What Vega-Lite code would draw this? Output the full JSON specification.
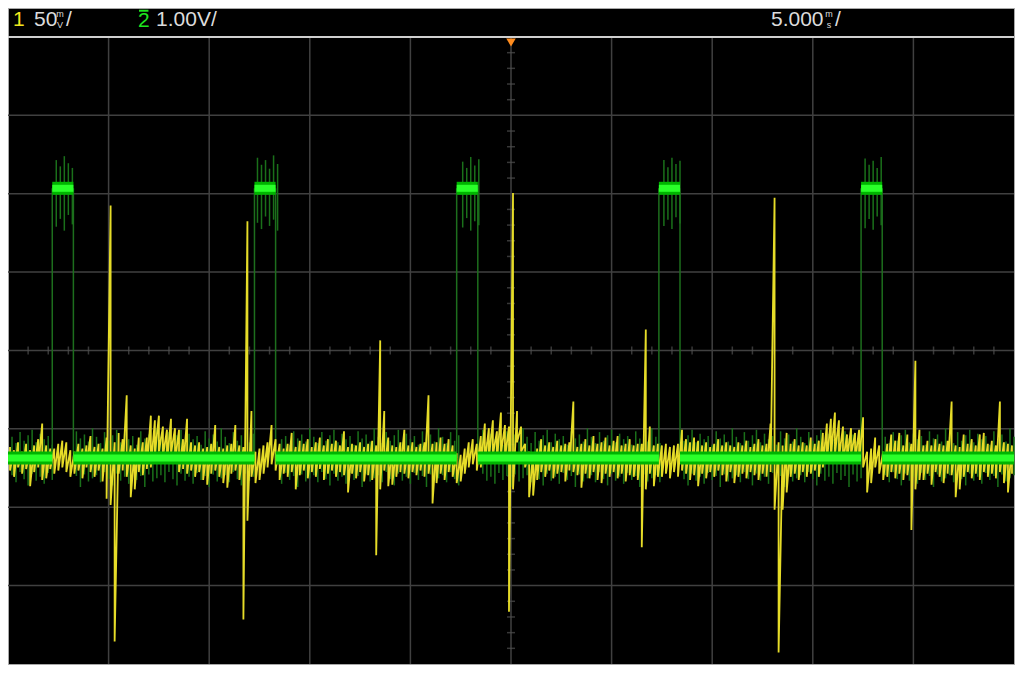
{
"$schema": "https://vega.github.io/schema/vega-lite/v6.json",
"width": 1006, "height": 656,
"autosize": {"type": "none"},
"padding": {"left": 8, "top": 8, "right": 10, "bottom": 12},
"background": "white",
"config": {"view": {"fill": "black", "stroke": "#a8a8a8", "strokeWidth": 1}},
"datasets": {
"gridT": [{"t":-20},{"t":-15},{"t":-10},{"t":-5},{"t":0},{"t":5},{"t":10},{"t":15},{"t":20}],
"gridD": [{"d":-3},{"d":-2},{"d":-1},{"d":0},{"d":1},{"d":2},{"d":3}],
"minorT": [{"t":-24},{"t":-23},{"t":-22},{"t":-21},{"t":-19},{"t":-18},{"t":-17},{"t":-16},{"t":-14},{"t":-13},{"t":-12},{"t":-11},{"t":-9},{"t":-8},{"t":-7},{"t":-6},{"t":-4},{"t":-3},{"t":-2},{"t":-1},{"t":1},{"t":2},{"t":3},{"t":4},{"t":6},{"t":7},{"t":8},{"t":9},{"t":11},{"t":12},{"t":13},{"t":14},{"t":16},{"t":17},{"t":18},{"t":19},{"t":21},{"t":22},{"t":23},{"t":24}],
"minorD": [{"d":-3.8},{"d":-3.6},{"d":-3.4},{"d":-3.2},{"d":-2.8},{"d":-2.6},{"d":-2.4},{"d":-2.2},{"d":-1.8},{"d":-1.6},{"d":-1.4},{"d":-1.2},{"d":-0.8},{"d":-0.6},{"d":-0.4},{"d":-0.2},{"d":0.2},{"d":0.4},{"d":0.6},{"d":0.8},{"d":1.2},{"d":1.4},{"d":1.6},{"d":1.8},{"d":2.2},{"d":2.4},{"d":2.6},{"d":2.8},{"d":3.2},{"d":3.4},{"d":3.6},{"d":3.8}],
"segs": [{"t1":-25,"t2":-22.8,"v":0},{"t1":-22.8,"t2":-21.75,"v":3.44},{"t1":-21.75,"t2":-12.75,"v":0},{"t1":-12.75,"t2":-11.7,"v":3.44},{"t1":-11.7,"t2":-2.7,"v":0},{"t1":-2.7,"t2":-1.65,"v":3.44},{"t1":-1.65,"t2":7.35,"v":0},{"t1":7.35,"t2":8.4,"v":3.44},{"t1":8.4,"t2":17.4,"v":0},{"t1":17.4,"t2":18.45,"v":3.44},{"t1":18.45,"t2":25,"v":0}],
"edges": [{"t":-22.8},{"t":-21.75},{"t":-12.75},{"t":-11.7},{"t":-2.7},{"t":-1.65},{"t":7.35},{"t":8.4},{"t":17.4},{"t":18.45}],
"header": [{"t":-24.75,"d":4.217,"txt":"1","ch":"1"},{"t":-23.71,"d":4.217,"txt":"50","ch":"n"},{"t":-22.12,"d":4.217,"txt":"/","ch":"n"},{"t":-18.54,"d":4.21,"txt":"2","ch":"2"},{"t":-17.64,"d":4.217,"txt":"1.00V/","ch":"n"},{"t":12.92,"d":4.217,"txt":"5.000","ch":"n"},{"t":16.1,"d":4.217,"txt":"/","ch":"n"}],
"bar": [{"t1":-18.49,"t2":-18.02,"d":4.335}],
"units": [{"t":-22.42,"d":4.29,"txt":"m"},{"t":-22.42,"d":4.15,"txt":"V"},{"t":15.8,"d":4.29,"txt":"m"},{"t":15.8,"d":4.15,"txt":"s"}],
"trig": [{"t":0,"d":3.93}],
"cols": [
{"t":-24.9,"lo":-8,"hi":7,"glo":-0.22,"ghi":0.27},
{"t":-24.7,"lo":-12,"hi":5,"glo":-0.31,"ghi":0.19},
{"t":-24.5,"lo":-6,"hi":10,"glo":-0.18,"ghi":0.33},
{"t":-24.3,"lo":-10,"hi":4,"glo":-0.27,"ghi":0.22},
{"t":-24.1,"lo":-7,"hi":9,"glo":-0.35,"ghi":0.29},
{"t":-23.9,"lo":-18,"hi":5,"glo":-0.2,"ghi":0.36},
{"t":-23.7,"lo":-9,"hi":8,"glo":-0.29,"ghi":0.2},
{"t":-23.5,"lo":-6,"hi":12,"glo":-0.24,"ghi":0.31},
{"t":-23.3,"lo":-14,"hi":22,"glo":-0.33,"ghi":0.24},
{"t":-23.1,"lo":-13,"hi":8,"glo":-0.19,"ghi":0.28},
{"t":-22.9,"lo":-7,"hi":6,"glo":-0.28,"ghi":0.17},
{"t":-22.7,"lo":-10,"hi":6,"glo":2.95,"ghi":3.8},
{"t":-22.5,"lo":-8,"hi":9,"glo":3.05,"ghi":3.72},
{"t":-22.3,"lo":-6,"hi":11,"glo":2.9,"ghi":3.85},
{"t":-22.1,"lo":-9,"hi":10,"glo":3.1,"ghi":3.76},
{"t":-21.9,"lo":-12,"hi":5,"glo":2.98,"ghi":3.7},
{"t":-21.7,"lo":-10,"hi":4,"glo":-0.23,"ghi":0.34},
{"t":-21.5,"lo":-8,"hi":9,"glo":-0.37,"ghi":0.25},
{"t":-21.3,"lo":-13,"hi":6,"glo":-0.21,"ghi":0.3},
{"t":-21.1,"lo":-6,"hi":8,"glo":-0.3,"ghi":0.21},
{"t":-20.9,"lo":-9,"hi":14,"glo":-0.26,"ghi":0.38},
{"t":-20.7,"lo":-12,"hi":7,"glo":-0.22,"ghi":0.27},
{"t":-20.5,"lo":-8,"hi":9,"glo":-0.31,"ghi":0.19},
{"t":-20.3,"lo":-15,"hi":6,"glo":-0.18,"ghi":0.33},
{"t":-20.1,"lo":-26,"hi":13,"glo":-0.27,"ghi":0.22},
{"t":-19.9,"lo":-30,"hi":161,"glo":-0.35,"ghi":0.29},
{"t":-19.7,"lo":-117,"hi":10,"glo":-0.2,"ghi":0.36},
{"t":-19.5,"lo":-10,"hi":16,"glo":-0.29,"ghi":0.2},
{"t":-19.3,"lo":-8,"hi":12,"glo":-0.24,"ghi":0.31},
{"t":-19.1,"lo":-12,"hi":40,"glo":-0.33,"ghi":0.24},
{"t":-18.9,"lo":-25,"hi":8,"glo":-0.19,"ghi":0.28},
{"t":-18.7,"lo":-20,"hi":6,"glo":-0.28,"ghi":0.17},
{"t":-18.5,"lo":-9,"hi":13,"glo":-0.23,"ghi":0.34},
{"t":-18.3,"lo":-11,"hi":10,"glo":-0.37,"ghi":0.25},
{"t":-18.1,"lo":-7,"hi":13,"glo":-0.21,"ghi":0.3},
{"t":-17.9,"lo":-6,"hi":27,"glo":-0.3,"ghi":0.21},
{"t":-17.7,"lo":2,"hi":24,"glo":-0.26,"ghi":0.38},
{"t":-17.5,"lo":4,"hi":27,"glo":-0.22,"ghi":0.27},
{"t":-17.3,"lo":1,"hi":20,"glo":-0.31,"ghi":0.19},
{"t":-17.1,"lo":-3,"hi":18,"glo":-0.18,"ghi":0.33},
{"t":-16.9,"lo":3,"hi":25,"glo":-0.27,"ghi":0.22},
{"t":-16.7,"lo":-2,"hi":19,"glo":-0.35,"ghi":0.29},
{"t":-16.5,"lo":-9,"hi":18,"glo":-0.2,"ghi":0.36},
{"t":-16.3,"lo":-7,"hi":12,"glo":-0.29,"ghi":0.2},
{"t":-16.1,"lo":-10,"hi":25,"glo":-0.24,"ghi":0.31},
{"t":-15.9,"lo":-8,"hi":10,"glo":-0.33,"ghi":0.24},
{"t":-15.7,"lo":-12,"hi":8,"glo":-0.19,"ghi":0.28},
{"t":-15.5,"lo":-9,"hi":10,"glo":-0.28,"ghi":0.17},
{"t":-15.3,"lo":-14,"hi":6,"glo":-0.23,"ghi":0.34},
{"t":-15.1,"lo":-17,"hi":7,"glo":-0.37,"ghi":0.25},
{"t":-14.9,"lo":-10,"hi":9,"glo":-0.21,"ghi":0.3},
{"t":-14.7,"lo":-8,"hi":21,"glo":-0.3,"ghi":0.21},
{"t":-14.5,"lo":-12,"hi":7,"glo":-0.26,"ghi":0.38},
{"t":-14.3,"lo":-16,"hi":6,"glo":-0.22,"ghi":0.27},
{"t":-14.1,"lo":-19,"hi":8,"glo":-0.31,"ghi":0.19},
{"t":-13.9,"lo":-10,"hi":9,"glo":-0.18,"ghi":0.33},
{"t":-13.7,"lo":-8,"hi":21,"glo":-0.27,"ghi":0.22},
{"t":-13.5,"lo":-14,"hi":8,"glo":-0.35,"ghi":0.29},
{"t":-13.3,"lo":-103,"hi":7,"glo":-0.2,"ghi":0.36},
{"t":-13.1,"lo":-40,"hi":151,"glo":-0.29,"ghi":0.2},
{"t":-12.9,"lo":-12,"hi":30,"glo":-0.24,"ghi":0.31},
{"t":-12.7,"lo":-16,"hi":4,"glo":3.0,"ghi":3.83},
{"t":-12.5,"lo":-14,"hi":6,"glo":2.92,"ghi":3.74},
{"t":-12.3,"lo":-10,"hi":8,"glo":3.08,"ghi":3.8},
{"t":-12.1,"lo":-6,"hi":10,"glo":2.96,"ghi":3.69},
{"t":-11.9,"lo":-4,"hi":21,"glo":3.04,"ghi":3.86},
{"t":-11.7,"lo":-8,"hi":12,"glo":2.9,"ghi":3.75},
{"t":-11.5,"lo":-14,"hi":9,"glo":-0.33,"ghi":0.24},
{"t":-11.3,"lo":-10,"hi":6,"glo":-0.19,"ghi":0.28},
{"t":-11.1,"lo":-12,"hi":9,"glo":-0.28,"ghi":0.17},
{"t":-10.9,"lo":-9,"hi":16,"glo":-0.23,"ghi":0.34},
{"t":-10.7,"lo":-20,"hi":7,"glo":-0.37,"ghi":0.25},
{"t":-10.5,"lo":-11,"hi":11,"glo":-0.21,"ghi":0.3},
{"t":-10.3,"lo":-8,"hi":9,"glo":-0.3,"ghi":0.21},
{"t":-10.1,"lo":-13,"hi":12,"glo":-0.26,"ghi":0.38},
{"t":-9.9,"lo":-9,"hi":7,"glo":-0.22,"ghi":0.27},
{"t":-9.7,"lo":-12,"hi":10,"glo":-0.31,"ghi":0.19},
{"t":-9.5,"lo":-7,"hi":13,"glo":-0.18,"ghi":0.33},
{"t":-9.3,"lo":-14,"hi":8,"glo":-0.27,"ghi":0.22},
{"t":-9.1,"lo":-10,"hi":12,"glo":-0.35,"ghi":0.29},
{"t":-8.9,"lo":-8,"hi":9,"glo":-0.2,"ghi":0.36},
{"t":-8.7,"lo":-12,"hi":11,"glo":-0.29,"ghi":0.2},
{"t":-8.5,"lo":-9,"hi":8,"glo":-0.24,"ghi":0.31},
{"t":-8.3,"lo":-11,"hi":17,"glo":-0.33,"ghi":0.24},
{"t":-8.1,"lo":-22,"hi":7,"glo":-0.19,"ghi":0.28},
{"t":-7.9,"lo":-10,"hi":9,"glo":-0.28,"ghi":0.17},
{"t":-7.7,"lo":-13,"hi":8,"glo":-0.23,"ghi":0.34},
{"t":-7.5,"lo":-9,"hi":10,"glo":-0.37,"ghi":0.25},
{"t":-7.3,"lo":-15,"hi":7,"glo":-0.21,"ghi":0.3},
{"t":-7.1,"lo":-11,"hi":9,"glo":-0.3,"ghi":0.21},
{"t":-6.9,"lo":-14,"hi":11,"glo":-0.26,"ghi":0.38},
{"t":-6.7,"lo":-62,"hi":8,"glo":-0.22,"ghi":0.27},
{"t":-6.5,"lo":-20,"hi":75,"glo":-0.31,"ghi":0.19},
{"t":-6.3,"lo":-8,"hi":30,"glo":-0.18,"ghi":0.33},
{"t":-6.1,"lo":-18,"hi":13,"glo":-0.27,"ghi":0.22},
{"t":-5.9,"lo":-17,"hi":8,"glo":-0.35,"ghi":0.29},
{"t":-5.7,"lo":-12,"hi":7,"glo":-0.2,"ghi":0.36},
{"t":-5.5,"lo":-9,"hi":10,"glo":-0.29,"ghi":0.2},
{"t":-5.3,"lo":-10,"hi":18,"glo":-0.24,"ghi":0.31},
{"t":-5.1,"lo":-13,"hi":8,"glo":-0.33,"ghi":0.24},
{"t":-4.9,"lo":-9,"hi":10,"glo":-0.19,"ghi":0.28},
{"t":-4.7,"lo":-11,"hi":7,"glo":-0.28,"ghi":0.17},
{"t":-4.5,"lo":-8,"hi":9,"glo":-0.23,"ghi":0.34},
{"t":-4.3,"lo":-12,"hi":10,"glo":-0.37,"ghi":0.25},
{"t":-4.1,"lo":-10,"hi":40,"glo":-0.21,"ghi":0.3},
{"t":-3.9,"lo":-29,"hi":9,"glo":-0.3,"ghi":0.21},
{"t":-3.7,"lo":-16,"hi":10,"glo":-0.26,"ghi":0.38},
{"t":-3.5,"lo":-10,"hi":13,"glo":-0.22,"ghi":0.27},
{"t":-3.3,"lo":-14,"hi":9,"glo":-0.31,"ghi":0.19},
{"t":-3.1,"lo":-9,"hi":12,"glo":-0.18,"ghi":0.33},
{"t":-2.9,"lo":-12,"hi":8,"glo":-0.27,"ghi":0.22},
{"t":-2.7,"lo":-16,"hi":3,"glo":-0.35,"ghi":0.29},
{"t":-2.5,"lo":-15,"hi":2,"glo":2.94,"ghi":3.78},
{"t":-2.3,"lo":-10,"hi":6,"glo":3.06,"ghi":3.7},
{"t":-2.1,"lo":-6,"hi":10,"glo":2.9,"ghi":3.84},
{"t":-1.9,"lo":-4,"hi":12,"glo":3.02,"ghi":3.73},
{"t":-1.7,"lo":-8,"hi":9,"glo":2.97,"ghi":3.81},
{"t":-1.5,"lo":-6,"hi":14,"glo":-0.2,"ghi":0.36},
{"t":-1.3,"lo":-3,"hi":22,"glo":-0.29,"ghi":0.2},
{"t":-1.1,"lo":0,"hi":19,"glo":-0.24,"ghi":0.31},
{"t":-0.9,"lo":2,"hi":24,"glo":-0.33,"ghi":0.24},
{"t":-0.7,"lo":-2,"hi":17,"glo":-0.19,"ghi":0.28},
{"t":-0.5,"lo":3,"hi":29,"glo":-0.28,"ghi":0.17},
{"t":-0.3,"lo":0,"hi":21,"glo":-0.23,"ghi":0.34},
{"t":-0.1,"lo":-98,"hi":20,"glo":-0.37,"ghi":0.25},
{"t":0.1,"lo":-20,"hi":169,"glo":-0.21,"ghi":0.3},
{"t":0.3,"lo":10,"hi":30,"glo":-0.3,"ghi":0.21},
{"t":0.5,"lo":4,"hi":20,"glo":-0.26,"ghi":0.38},
{"t":0.7,"lo":-6,"hi":9,"glo":-0.22,"ghi":0.27},
{"t":0.9,"lo":-25,"hi":4,"glo":-0.31,"ghi":0.19},
{"t":1.1,"lo":-24,"hi":3,"glo":-0.18,"ghi":0.33},
{"t":1.3,"lo":-14,"hi":6,"glo":-0.27,"ghi":0.22},
{"t":1.5,"lo":-9,"hi":12,"glo":-0.35,"ghi":0.29},
{"t":1.7,"lo":-12,"hi":8,"glo":-0.2,"ghi":0.36},
{"t":1.9,"lo":-8,"hi":10,"glo":-0.29,"ghi":0.2},
{"t":2.1,"lo":-13,"hi":7,"glo":-0.24,"ghi":0.31},
{"t":2.3,"lo":-10,"hi":11,"glo":-0.33,"ghi":0.24},
{"t":2.5,"lo":-9,"hi":8,"glo":-0.19,"ghi":0.28},
{"t":2.7,"lo":-15,"hi":9,"glo":-0.28,"ghi":0.17},
{"t":2.9,"lo":-8,"hi":10,"glo":-0.23,"ghi":0.34},
{"t":3.1,"lo":-9,"hi":36,"glo":-0.37,"ghi":0.25},
{"t":3.3,"lo":-11,"hi":7,"glo":-0.21,"ghi":0.3},
{"t":3.5,"lo":-19,"hi":9,"glo":-0.3,"ghi":0.21},
{"t":3.7,"lo":-10,"hi":12,"glo":-0.26,"ghi":0.38},
{"t":3.9,"lo":-13,"hi":8,"glo":-0.22,"ghi":0.27},
{"t":4.1,"lo":-9,"hi":14,"glo":-0.31,"ghi":0.19},
{"t":4.3,"lo":-14,"hi":9,"glo":-0.18,"ghi":0.33},
{"t":4.5,"lo":-16,"hi":10,"glo":-0.27,"ghi":0.22},
{"t":4.7,"lo":-10,"hi":13,"glo":-0.35,"ghi":0.29},
{"t":4.9,"lo":-12,"hi":8,"glo":-0.2,"ghi":0.36},
{"t":5.1,"lo":-9,"hi":11,"glo":-0.29,"ghi":0.2},
{"t":5.3,"lo":-13,"hi":14,"glo":-0.24,"ghi":0.31},
{"t":5.5,"lo":-10,"hi":8,"glo":-0.33,"ghi":0.24},
{"t":5.7,"lo":-15,"hi":9,"glo":-0.19,"ghi":0.28},
{"t":5.9,"lo":-11,"hi":12,"glo":-0.28,"ghi":0.17},
{"t":6.1,"lo":-12,"hi":8,"glo":-0.23,"ghi":0.34},
{"t":6.3,"lo":-14,"hi":9,"glo":-0.37,"ghi":0.25},
{"t":6.5,"lo":-57,"hi":9,"glo":-0.21,"ghi":0.3},
{"t":6.7,"lo":-20,"hi":82,"glo":-0.3,"ghi":0.21},
{"t":6.9,"lo":-10,"hi":20,"glo":-0.26,"ghi":0.38},
{"t":7.1,"lo":-18,"hi":8,"glo":-0.22,"ghi":0.27},
{"t":7.3,"lo":-12,"hi":9,"glo":-0.31,"ghi":0.19},
{"t":7.5,"lo":-12,"hi":8,"glo":2.96,"ghi":3.8},
{"t":7.7,"lo":-10,"hi":9,"glo":3.04,"ghi":3.71},
{"t":7.9,"lo":-13,"hi":7,"glo":2.92,"ghi":3.83},
{"t":8.1,"lo":-9,"hi":8,"glo":3.07,"ghi":3.75},
{"t":8.3,"lo":-12,"hi":9,"glo":2.99,"ghi":3.79},
{"t":8.5,"lo":-8,"hi":18,"glo":-0.27,"ghi":0.22},
{"t":8.7,"lo":-10,"hi":12,"glo":-0.35,"ghi":0.29},
{"t":8.9,"lo":-14,"hi":10,"glo":-0.2,"ghi":0.36},
{"t":9.1,"lo":-11,"hi":13,"glo":-0.29,"ghi":0.2},
{"t":9.3,"lo":-18,"hi":11,"glo":-0.24,"ghi":0.31},
{"t":9.5,"lo":-10,"hi":8,"glo":-0.33,"ghi":0.24},
{"t":9.7,"lo":-13,"hi":10,"glo":-0.19,"ghi":0.28},
{"t":9.9,"lo":-9,"hi":7,"glo":-0.28,"ghi":0.17},
{"t":10.1,"lo":-12,"hi":9,"glo":-0.23,"ghi":0.34},
{"t":10.3,"lo":-8,"hi":12,"glo":-0.37,"ghi":0.25},
{"t":10.5,"lo":-11,"hi":8,"glo":-0.21,"ghi":0.3},
{"t":10.7,"lo":-15,"hi":10,"glo":-0.3,"ghi":0.21},
{"t":10.9,"lo":-9,"hi":8,"glo":-0.26,"ghi":0.38},
{"t":11.1,"lo":-16,"hi":7,"glo":-0.22,"ghi":0.27},
{"t":11.3,"lo":-12,"hi":10,"glo":-0.31,"ghi":0.19},
{"t":11.5,"lo":-10,"hi":8,"glo":-0.18,"ghi":0.33},
{"t":11.7,"lo":-13,"hi":11,"glo":-0.27,"ghi":0.22},
{"t":11.9,"lo":-9,"hi":7,"glo":-0.35,"ghi":0.29},
{"t":12.1,"lo":-11,"hi":9,"glo":-0.2,"ghi":0.36},
{"t":12.3,"lo":-14,"hi":12,"glo":-0.29,"ghi":0.2},
{"t":12.5,"lo":-10,"hi":8,"glo":-0.24,"ghi":0.31},
{"t":12.7,"lo":-12,"hi":9,"glo":-0.33,"ghi":0.24},
{"t":12.9,"lo":-9,"hi":22,"glo":-0.19,"ghi":0.28},
{"t":13.1,"lo":-33,"hi":166,"glo":-0.28,"ghi":0.17},
{"t":13.3,"lo":-124,"hi":10,"glo":-0.23,"ghi":0.34},
{"t":13.5,"lo":-33,"hi":8,"glo":-0.37,"ghi":0.25},
{"t":13.7,"lo":-22,"hi":16,"glo":-0.21,"ghi":0.3},
{"t":13.9,"lo":-12,"hi":9,"glo":-0.3,"ghi":0.21},
{"t":14.1,"lo":-10,"hi":12,"glo":-0.26,"ghi":0.38},
{"t":14.3,"lo":-14,"hi":8,"glo":-0.22,"ghi":0.27},
{"t":14.5,"lo":-9,"hi":10,"glo":-0.31,"ghi":0.19},
{"t":14.7,"lo":-12,"hi":8,"glo":-0.18,"ghi":0.33},
{"t":14.9,"lo":-10,"hi":13,"glo":-0.27,"ghi":0.22},
{"t":15.1,"lo":-8,"hi":9,"glo":-0.35,"ghi":0.29},
{"t":15.3,"lo":-12,"hi":11,"glo":-0.2,"ghi":0.36},
{"t":15.5,"lo":-6,"hi":16,"glo":-0.29,"ghi":0.2},
{"t":15.7,"lo":-2,"hi":22,"glo":-0.24,"ghi":0.31},
{"t":15.9,"lo":1,"hi":25,"glo":-0.33,"ghi":0.24},
{"t":16.1,"lo":3,"hi":29,"glo":-0.19,"ghi":0.28},
{"t":16.3,"lo":0,"hi":24,"glo":-0.28,"ghi":0.17},
{"t":16.5,"lo":-3,"hi":20,"glo":-0.23,"ghi":0.34},
{"t":16.7,"lo":-1,"hi":15,"glo":-0.37,"ghi":0.25},
{"t":16.9,"lo":2,"hi":19,"glo":-0.21,"ghi":0.3},
{"t":17.1,"lo":-2,"hi":16,"glo":-0.3,"ghi":0.21},
{"t":17.3,"lo":-2,"hi":18,"glo":-0.26,"ghi":0.38},
{"t":17.5,"lo":-6,"hi":26,"glo":2.93,"ghi":3.82},
{"t":17.7,"lo":-22,"hi":4,"glo":3.05,"ghi":3.74},
{"t":17.9,"lo":-16,"hi":6,"glo":2.91,"ghi":3.79},
{"t":18.1,"lo":-6,"hi":13,"glo":3.08,"ghi":3.7},
{"t":18.3,"lo":-10,"hi":8,"glo":2.97,"ghi":3.84},
{"t":18.5,"lo":-14,"hi":4,"glo":-0.22,"ghi":0.27},
{"t":18.7,"lo":-12,"hi":9,"glo":-0.31,"ghi":0.19},
{"t":18.9,"lo":-9,"hi":15,"glo":-0.18,"ghi":0.33},
{"t":19.1,"lo":-13,"hi":11,"glo":-0.27,"ghi":0.22},
{"t":19.3,"lo":-10,"hi":16,"glo":-0.35,"ghi":0.29},
{"t":19.5,"lo":-14,"hi":8,"glo":-0.2,"ghi":0.36},
{"t":19.7,"lo":-11,"hi":15,"glo":-0.29,"ghi":0.2},
{"t":19.9,"lo":-46,"hi":9,"glo":-0.24,"ghi":0.31},
{"t":20.1,"lo":-20,"hi":62,"glo":-0.33,"ghi":0.24},
{"t":20.3,"lo":-14,"hi":18,"glo":-0.19,"ghi":0.28},
{"t":20.5,"lo":-14,"hi":8,"glo":-0.28,"ghi":0.17},
{"t":20.7,"lo":-10,"hi":11,"glo":-0.23,"ghi":0.34},
{"t":20.9,"lo":-17,"hi":8,"glo":-0.37,"ghi":0.25},
{"t":21.1,"lo":-9,"hi":12,"glo":-0.21,"ghi":0.3},
{"t":21.3,"lo":-12,"hi":9,"glo":-0.3,"ghi":0.21},
{"t":21.5,"lo":-16,"hi":8,"glo":-0.26,"ghi":0.38},
{"t":21.7,"lo":-10,"hi":11,"glo":-0.22,"ghi":0.27},
{"t":21.9,"lo":-11,"hi":36,"glo":-0.31,"ghi":0.19},
{"t":22.1,"lo":-25,"hi":8,"glo":-0.18,"ghi":0.33},
{"t":22.3,"lo":-20,"hi":7,"glo":-0.27,"ghi":0.22},
{"t":22.5,"lo":-12,"hi":15,"glo":-0.35,"ghi":0.29},
{"t":22.7,"lo":-9,"hi":9,"glo":-0.2,"ghi":0.36},
{"t":22.9,"lo":-13,"hi":12,"glo":-0.29,"ghi":0.2},
{"t":23.1,"lo":-10,"hi":8,"glo":-0.24,"ghi":0.31},
{"t":23.3,"lo":-14,"hi":15,"glo":-0.33,"ghi":0.24},
{"t":23.5,"lo":-9,"hi":16,"glo":-0.19,"ghi":0.28},
{"t":23.7,"lo":-12,"hi":9,"glo":-0.28,"ghi":0.17},
{"t":23.9,"lo":-10,"hi":11,"glo":-0.23,"ghi":0.34},
{"t":24.1,"lo":-13,"hi":8,"glo":-0.37,"ghi":0.25},
{"t":24.3,"lo":-9,"hi":36,"glo":-0.21,"ghi":0.3},
{"t":24.5,"lo":-16,"hi":10,"glo":-0.3,"ghi":0.21},
{"t":24.7,"lo":-22,"hi":9,"glo":-0.26,"ghi":0.38},
{"t":24.9,"lo":-10,"hi":8,"glo":-0.22,"ghi":0.27}
]
},
"resolve": {"scale": {"y": "independent"}},
"layer": [
{"data": {"name": "gridT"}, "mark": {"type": "rule", "color": "#404040", "strokeWidth": 1.5},
 "encoding": {"x": {"field": "t", "type": "quantitative", "scale": {"domain": [-25, 25], "nice": false, "zero": false}, "axis": null},
  "y": {"datum": -4, "type": "quantitative", "scale": {"domain": [-4, 4.37], "nice": false, "zero": false}, "axis": null}, "y2": {"datum": 4}}},
{"data": {"name": "gridD"}, "mark": {"type": "rule", "color": "#404040", "strokeWidth": 1.5},
 "encoding": {"y": {"field": "d", "type": "quantitative", "scale": {"domain": [-4, 4.37], "nice": false, "zero": false}, "axis": null},
  "x": {"datum": -25, "type": "quantitative", "scale": {"domain": [-25, 25], "nice": false, "zero": false}, "axis": null}, "x2": {"datum": 25}}},
{"data": {"values": [{"d": 4}]}, "mark": {"type": "rule", "color": "#cfcfcf", "strokeWidth": 2},
 "encoding": {"y": {"field": "d", "type": "quantitative", "scale": {"domain": [-4, 4.37], "nice": false, "zero": false}, "axis": null},
  "x": {"datum": -25, "type": "quantitative", "scale": {"domain": [-25, 25], "nice": false, "zero": false}, "axis": null}, "x2": {"datum": 25}}},
{"data": {"name": "minorT"}, "mark": {"type": "tick", "orient": "vertical", "color": "#505050", "size": 8, "thickness": 1.5},
 "encoding": {"x": {"field": "t", "type": "quantitative", "scale": {"domain": [-25, 25], "nice": false, "zero": false}, "axis": null},
  "y": {"datum": 0, "type": "quantitative", "scale": {"domain": [-4, 4.37], "nice": false, "zero": false}, "axis": null}}},
{"data": {"name": "minorD"}, "mark": {"type": "tick", "orient": "horizontal", "color": "#505050", "size": 8, "thickness": 1.5},
 "encoding": {"y": {"field": "d", "type": "quantitative", "scale": {"domain": [-4, 4.37], "nice": false, "zero": false}, "axis": null},
  "x": {"datum": 0, "type": "quantitative", "scale": {"domain": [-25, 25], "nice": false, "zero": false}, "axis": null}}},
{"data": {"name": "cols"}, "mark": {"type": "rule", "color": "#1a701a", "strokeWidth": 1.5, "xOffset": 2},
 "encoding": {"x": {"field": "t", "type": "quantitative", "scale": {"domain": [-25, 25], "nice": false, "zero": false}, "axis": null},
  "y": {"field": "glo", "type": "quantitative", "scale": {"domain": [-2.628, 5.74], "nice": false, "zero": false}, "axis": null}, "y2": {"field": "ghi"}}},
{"data": {"name": "edges"}, "mark": {"type": "rule", "color": "#1d6e1d", "strokeWidth": 1.5},
 "encoding": {"x": {"field": "t", "type": "quantitative", "scale": {"domain": [-25, 25], "nice": false, "zero": false}, "axis": null},
  "y": {"datum": 0, "type": "quantitative", "scale": {"domain": [-2.628, 5.74], "nice": false, "zero": false}, "axis": null}, "y2": {"datum": 3.44}}},
{"data": {"name": "cols"}, "transform": [{"fold": ["hi", "lo"], "as": ["k", "y"]}],
 "mark": {"type": "line", "color": "#e6dc28", "strokeWidth": 1.8, "strokeJoin": "bevel"},
 "encoding": {"x": {"field": "t", "type": "quantitative", "scale": {"domain": [-25, 25], "nice": false, "zero": false}, "axis": null},
  "y": {"field": "y", "type": "quantitative", "scale": {"domain": [-131.4, 287.0], "nice": false, "zero": false}, "axis": null},
  "order": [{"field": "t", "type": "quantitative"}, {"field": "k", "type": "nominal"}]}},
{"data": {"name": "segs"}, "mark": {"type": "rule", "color": "#00b400", "strokeWidth": 13, "strokeCap": "butt"},
 "encoding": {"x": {"field": "t1", "type": "quantitative", "scale": {"domain": [-25, 25], "nice": false, "zero": false}, "axis": null}, "x2": {"field": "t2"},
  "y": {"field": "v", "type": "quantitative", "scale": {"domain": [-2.628, 5.74], "nice": false, "zero": false}, "axis": null}}},
{"data": {"name": "segs"}, "mark": {"type": "rule", "color": "#2aff2a", "strokeWidth": 7, "strokeCap": "butt"},
 "encoding": {"x": {"field": "t1", "type": "quantitative", "scale": {"domain": [-25, 25], "nice": false, "zero": false}, "axis": null}, "x2": {"field": "t2"},
  "y": {"field": "v", "type": "quantitative", "scale": {"domain": [-2.628, 5.74], "nice": false, "zero": false}, "axis": null}}},
{"data": {"name": "header"}, "mark": {"type": "text", "align": "left", "baseline": "middle", "font": "Liberation Sans", "fontSize": 21},
 "encoding": {"x": {"field": "t", "type": "quantitative", "scale": {"domain": [-25, 25], "nice": false, "zero": false}, "axis": null},
  "y": {"field": "d", "type": "quantitative", "scale": {"domain": [-4, 4.37], "nice": false, "zero": false}, "axis": null},
  "text": {"field": "txt"},
  "color": {"field": "ch", "type": "nominal", "scale": {"domain": ["1", "2", "n"], "range": ["#f0e61e", "#1ee61e", "#dcdcdc"]}, "legend": null}}},
{"data": {"name": "bar"}, "mark": {"type": "rule", "color": "#1ee61e", "strokeWidth": 2},
 "encoding": {"x": {"field": "t1", "type": "quantitative", "scale": {"domain": [-25, 25], "nice": false, "zero": false}, "axis": null}, "x2": {"field": "t2"},
  "y": {"field": "d", "type": "quantitative", "scale": {"domain": [-4, 4.37], "nice": false, "zero": false}, "axis": null}}},
{"data": {"name": "units"}, "mark": {"type": "text", "align": "center", "baseline": "middle", "font": "Liberation Sans", "fontSize": 9, "color": "#dcdcdc"},
 "encoding": {"x": {"field": "t", "type": "quantitative", "scale": {"domain": [-25, 25], "nice": false, "zero": false}, "axis": null},
  "y": {"field": "d", "type": "quantitative", "scale": {"domain": [-4, 4.37], "nice": false, "zero": false}, "axis": null},
  "text": {"field": "txt"}}},
{"data": {"name": "trig"}, "mark": {"type": "point", "shape": "triangle-down", "filled": true, "size": 90, "color": "#ff8c1e", "opacity": 1},
 "encoding": {"x": {"field": "t", "type": "quantitative", "scale": {"domain": [-25, 25], "nice": false, "zero": false}, "axis": null},
  "y": {"field": "d", "type": "quantitative", "scale": {"domain": [-4, 4.37], "nice": false, "zero": false}, "axis": null}}}
]
}
